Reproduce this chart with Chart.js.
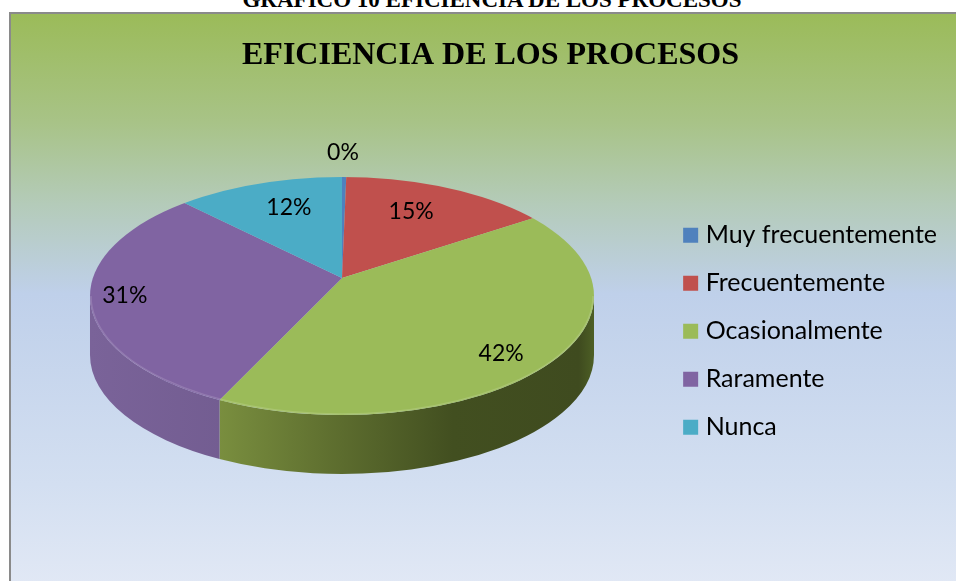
<!DOCTYPE html>
<html>
<head>
<meta charset="utf-8">
<script src="https://cdn.jsdelivr.net/npm/chart.js@4"></script>
<style>
  html, body { margin: 0; padding: 0; background: #fff; overflow: hidden; }
  #caption {
    position: absolute; left: 0; top: -13px; width: 984px; text-align: center;
    font: bold 23px "Liberation Serif", serif; color: #000; white-space: nowrap;
  }
  #frame {
    position: absolute; left: 9px; top: 12px; width: 950px; height: 580px;
    border: 2px solid #8a8a8a; box-sizing: border-box;
    background: linear-gradient(to bottom, #9bbb59 0px, #a8c387 108px, #b4cbb9 190px, #bfd0ea 280px, #d3dff1 470px, #e1e8f5 570px);
  }
  #pie { position: absolute; left: 0; top: 0; }
</style>
</head>
<body>
<div id="caption">GRÁFICO 10 EFICIENCIA DE LOS PROCESOS</div>
<div id="frame"></div>
<canvas id="pie" width="956" height="581"></canvas>
<script>
var chartTitle = "EFICIENCIA DE LOS PROCESOS";
var xValues = ["Muy frecuentemente", "Frecuentemente", "Ocasionalmente", "Raramente", "Nunca"];
var yValues = [0.3, 15, 42, 31, 12];
var barColors = ["#4f81bd", "#c0504d", "#9bbb59", "#8064a2", "#4bacc6"];

// side wall shades, left to right across the pie
var wallColors = [
  ["#3f6797", "#2c4a6e"],
  ["#9a403d", "#6e2c2a"],
  ["#7f9a42", "#3f4b1f"],
  ["#7a6399", "#5f4c7c"],
  ["#3c8a9e", "#2b6272"]
];

// where each percent label sits, as a share of the slice scale
var labelRadiusX = [0.32, 0.449, 0.636, 0.670, 0.441];
var labelRadiusY = [0.856, 0.512, 0.748, 0.76, 0.515];

// 3d look: the rim is an ellipse, the apex sits above its centre (perspective)
var rimX = 342, rimY = 296, rimRx = 252, rimRy = 119, wallHeight = 59;
var apexX = 342, apexY = 278;
// slices are drawn oversize from the apex and cut by the rim
var sliceX = 328, sliceBack = 146, sliceFront = 157;

// where the edge of a slice meets the rim, as an angle on the rim ellipse
function rimAngle(a) {
  var dx = Math.cos(a) * sliceX / rimRx;
  var dy = Math.sin(a) * (Math.sin(a) < 0 ? sliceBack : sliceFront) / rimRy;
  var px = (apexX - rimX) / rimRx;
  var py = (apexY - rimY) / rimRy;
  var qa = dx * dx + dy * dy;
  var qb = 2 * (px * dx + py * dy);
  var qc = px * px + py * py - 1;
  var s = (-qb + Math.sqrt(qb * qb - 4 * qa * qc)) / (2 * qa);
  return Math.atan2(py + s * dy, px + s * dx);
}

function drawWall(ctx, arc, i) {
  var t0 = rimAngle(arc.startAngle);
  var t1 = rimAngle(arc.endAngle);
  if (t1 < t0) t1 += Math.PI * 2;
  t0 = Math.max(t0, 0);
  t1 = Math.min(t1, Math.PI);
  if (t1 <= t0) return;
  var grad = ctx.createLinearGradient(rimX - rimRx, 0, rimX + rimRx, 0);
  grad.addColorStop(0, wallColors[i][0]);
  grad.addColorStop(1, wallColors[i][1]);
  if (i == 2) {
    // green wall gets dark quickly and lightens a bit at the far right
    grad = ctx.createLinearGradient(rimX - rimRx, 0, rimX + rimRx, 0);
    grad.addColorStop(0.25, "#7a8f3f");
    grad.addColorStop(0.5, "#5c6c2e");
    grad.addColorStop(0.72, "#424f20");
    grad.addColorStop(0.97, "#3f4b1f");
    grad.addColorStop(1, "#4d5f25");
  }
  ctx.fillStyle = grad;
  ctx.beginPath();
  ctx.ellipse(rimX, rimY, rimRx, rimRy, 0, t0, t1);
  ctx.ellipse(rimX, rimY + wallHeight, rimRx, rimRy, 0, t1, t0, true);
  ctx.closePath();
  ctx.fill();
}

function drawTop(ctx, arcs, clipY, clipH, ry) {
  ctx.save();
  ctx.beginPath();
  ctx.ellipse(rimX, rimY, rimRx, rimRy, 0, 0, Math.PI * 2);
  ctx.clip();
  ctx.beginPath();
  ctx.rect(0, clipY, 956, clipH);
  ctx.clip();
  arcs.forEach(function(arc) {
    ctx.save();
    ctx.translate(apexX, apexY);
    ctx.scale(sliceX / arc.outerRadius, ry / arc.outerRadius);
    ctx.translate(-arc.x, -arc.y);
    arc.draw(ctx);
    ctx.restore();
  });
  ctx.restore();
}

var pie3d = {
  id: "pie3d",
  beforeDatasetsDraw: function(chart) {
    var ctx = chart.ctx;
    var arcs = chart.getDatasetMeta(0).data;
    arcs.forEach(function(arc, i) { drawWall(ctx, arc, i); });
    drawTop(ctx, arcs, 0, apexY, sliceBack);
    drawTop(ctx, arcs, apexY, 581 - apexY, sliceFront);

    // light bevel on the front rim
    ctx.save();
    ctx.strokeStyle = "rgba(255,255,255,0.14)";
    ctx.lineWidth = 1.5;
    ctx.beginPath();
    ctx.ellipse(rimX, rimY, rimRx - 1, rimRy - 1, 0, 0, Math.PI);
    ctx.stroke();
    ctx.restore();

    ctx.save();
    ctx.fillStyle = "#000";
    ctx.font = "23px Lato";
    ctx.textAlign = "center";
    ctx.textBaseline = "middle";
    arcs.forEach(function(arc, i) {
      var mid = (arc.startAngle + arc.endAngle) / 2;
      var ry = Math.sin(mid) < 0 ? sliceBack : sliceFront;
      var x = apexX + Math.cos(mid) * sliceX * labelRadiusX[i];
      var y = apexY + Math.sin(mid) * ry * labelRadiusY[i];
      ctx.fillText(Math.round(yValues[i]) + "%", x, y);
    });
    ctx.restore();
    return false;
  }
};

new Chart("pie", {
  type: "pie",
  data: {
    labels: xValues,
    datasets: [{
      backgroundColor: barColors,
      borderWidth: 0,
      data: yValues
    }]
  },
  plugins: [pie3d],
  options: {
    responsive: false,
    animation: false,
    layout: { padding: { left: 34, right: 9, top: 0, bottom: 0 } },
    plugins: {
      tooltip: { enabled: false },
      title: {
        display: true,
        text: chartTitle,
        color: "#000",
        font: { family: "Liberation Serif", size: 32, weight: "bold" },
        padding: { top: 37, bottom: 6 }
      },
      legend: {
        position: "right",
        fullSize: false,
        onClick: null,
        labels: {
          color: "#000",
          boxWidth: 5,
          boxHeight: 5,
          padding: 23,
          font: { family: "Lato", size: 25 },
          // thick outline brings the square up to 15px but keeps the text close
          generateLabels: function(chart) {
            var items = Chart.overrides.pie.plugins.legend.labels.generateLabels(chart);
            items.forEach(function(item) {
              item.lineWidth = 10;
              item.strokeStyle = item.fillStyle;
            });
            return items;
          }
        }
      }
    }
  }
});
</script>
</body>
</html>
